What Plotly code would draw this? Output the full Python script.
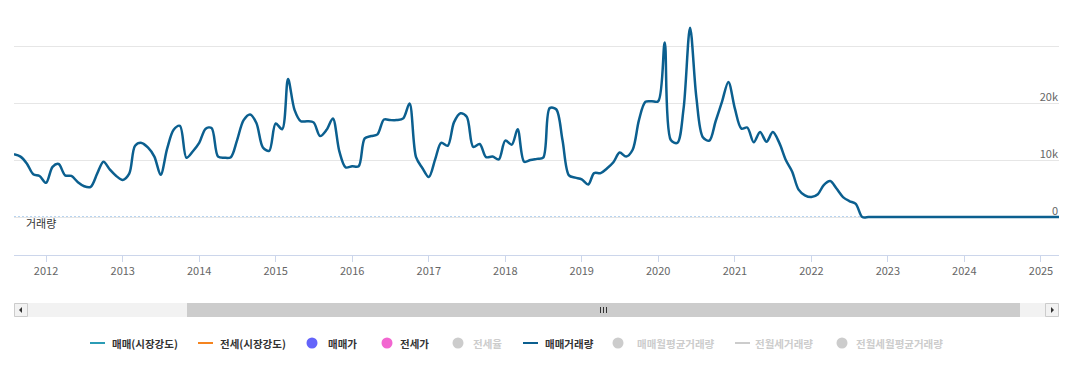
import plotly.graph_objects as go
import pandas as pd

# ---------------- data ----------------
start_month = "2011-08-01"
volume = [
    # 2011 Aug-Dec
    11000, 10600, 9400, 7500, 7200,
    # 2012
    6000, 8800, 9300, 7300, 7200, 6100, 5400, 5300, 7600, 9700, 8300, 7200,
    # 2013
    6500, 7600, 12500, 13000, 12200, 10600, 7400, 12000, 15300, 16000, 10400, 11500,
    # 2014
    13000, 15500, 15600, 10600, 10400, 10500, 13500, 17000, 18000, 16500, 12200, 11600,
    # 2015
    16400, 15400, 24200, 18800, 16800, 16800, 16600, 14200, 15300, 17300, 11500, 8700,
    # 2016
    8900, 8900, 13800, 14200, 14500, 17100, 17000, 17000, 17300, 19900, 10500, 8600,
    # 2017
    7000, 10200, 13000, 12500, 16600, 18200, 17600, 12300, 12800, 10500, 10600, 10100,
    # 2018
    13400, 12700, 15400, 9700, 10000, 10200, 10400, 19100, 18900, 13500, 7300, 6900,
    # 2019
    6600, 5700, 7700, 7700, 8500, 9600, 11300, 10600, 11800, 17000, 20200, 20300,
    # 2020
    20300, 30600, 13500, 13000, 19000, 33200, 21000, 14000, 13400, 16800, 20300, 23700,
    # 2021
    19000, 15500, 15700, 13100, 14900, 13200, 14900, 13000, 10000, 8000, 4800, 3800,
    # 2022
    3500, 4000, 5600, 6300, 5000, 3500, 2800, 2300, 0, 0, 0, 0,
    # 2023
    0, 0, 0, 0, 0, 0, 0, 0, 0, 0, 0, 0,
    # 2024
    0, 0, 0, 0, 0, 0, 0, 0, 0, 0, 0, 0,
    # 2025 Jan-Apr
    0, 0, 0, 0,
]
months = pd.date_range(start_month, periods=len(volume), freq="MS")

y_tickvals = [0, 10000, 20000, 30000]
y_ticktext = ["0", "10k", "20k", ""]
axis_title = "거래량"

legend_names = ["매매(시장강도)", "전세(시장강도)", "매매가", "전세가", "전세율",
                "매매거래량", "매매월평균거래량", "전월세거래량", "전월세월평균거래량"]
legend_kinds = ["line", "line", "dot", "dot", "dot", "line", "dot", "line", "dot"]
legend_colors = ["#2b9cb5", "#f5841f", "#6464fa", "#f266d0", "#cccccc",
                 "#0b5f8f", "#cccccc", "#cccccc", "#cccccc"]
legend_active = [True, True, True, True, False, True, False, False, False]

# ---------------- layout helpers (pixels -> paper) ----------------
W, H = 1076, 371
def px(x):
    return x / W
def py(y):
    return 1 - y / H

PLOT_L, PLOT_R, PLOT_T, PLOT_B = 14, 1059, 10, 255
LINE_COLOR = "#0b5f8f"
FONT = "Noto Sans CJK KR"

fig = go.Figure()
fig.add_trace(go.Scatter(
    x=months, y=volume, mode="lines",
    line=dict(color=LINE_COLOR, width=2.5, shape="spline", smoothing=0.9),
    hoverinfo="skip", showlegend=False,
))

shapes = []
# zero line (dotted), white underlay to hide grid
shapes.append(dict(type="line", xref="paper", yref="y", x0=px(PLOT_L), x1=px(PLOT_R),
                   y0=0, y1=0, line=dict(color="white", width=1), layer="between"))
shapes.append(dict(type="line", xref="paper", yref="y", x0=px(PLOT_L), x1=px(PLOT_R),
                   y0=0, y1=0, line=dict(color="#6fa8e0", width=1, dash="2px,2px"),
                   layer="between"))

# scrollbar
SB_T, SB_B = 303, 317
shapes.append(dict(type="rect", xref="paper", yref="paper", x0=px(PLOT_L), x1=px(PLOT_R),
                   y0=py(SB_B), y1=py(SB_T), fillcolor="#f2f2f2", line=dict(width=0)))
shapes.append(dict(type="rect", xref="paper", yref="paper", x0=px(187), x1=px(1020),
                   y0=py(SB_B), y1=py(SB_T), fillcolor="#cccccc", line=dict(width=0)))
for bx in (PLOT_L, PLOT_R - 14):
    shapes.append(dict(type="rect", xref="paper", yref="paper", x0=px(bx + 0.5), x1=px(bx + 13.5),
                       y0=py(SB_B - 0.5), y1=py(SB_T + 0.5), fillcolor="#f2f2f2",
                       line=dict(color="#cccccc", width=1)))
# arrows
cy = (SB_T + SB_B) / 2
lx = PLOT_L + 7
rx = PLOT_R - 7
shapes.append(dict(type="path", xref="paper", yref="paper",
                   path=f"M {px(lx-2)} {py(cy)} L {px(lx+1)} {py(cy-3)} L {px(lx+1)} {py(cy+3)} Z",
                   fillcolor="#333333", line=dict(width=0)))
shapes.append(dict(type="path", xref="paper", yref="paper",
                   path=f"M {px(rx+2)} {py(cy)} L {px(rx-1)} {py(cy-3)} L {px(rx-1)} {py(cy+3)} Z",
                   fillcolor="#333333", line=dict(width=0)))
# grip
for gx in (600.5, 603.5, 606.5):
    shapes.append(dict(type="line", xref="paper", yref="paper", x0=px(gx), x1=px(gx),
                       y0=py(cy - 3), y1=py(cy + 3), line=dict(color="#333333", width=1)))

# legend (custom)
LEG_Y = 343
sym_x = [90, 198, 312, 387, 458, 523, 618, 735, 842]
text_x = [110, 218, 326, 398, 471, 543, 635, 753, 854]
annotations = []
for name, kind, col, act, sx, tx in zip(legend_names, legend_kinds, legend_colors,
                                         legend_active, sym_x, text_x):
    if kind == "line":
        shapes.append(dict(type="line", xref="paper", yref="paper", x0=px(sx), x1=px(sx + 15),
                           y0=py(LEG_Y), y1=py(LEG_Y), line=dict(color=col, width=2)))
    else:
        shapes.append(dict(type="circle", xref="paper", yref="paper", x0=px(sx - 5.5),
                           x1=px(sx + 5.5), y0=py(LEG_Y + 5.5), y1=py(LEG_Y - 5.5),
                           fillcolor=col, line=dict(width=0)))
    annotations.append(dict(text=f"<b>{name}</b>", xref="paper", yref="paper", x=px(tx),
                            y=py(LEG_Y), xanchor="left", yanchor="middle", showarrow=False,
                            font=dict(family=FONT, size=10.5,
                                      color="#333333" if act else "#cccccc")))

annotations.append(dict(text=axis_title, xref="paper", yref="y", x=px(24), y=0, yshift=-6,
                        xanchor="left", yanchor="middle", showarrow=False,
                        font=dict(family=FONT, size=11, color="#333333")))

fig.update_layout(
    width=W, height=H,
    margin=dict(l=0, r=0, t=0, b=0),
    paper_bgcolor="white", plot_bgcolor="white",
    showlegend=False,
    shapes=shapes,
    annotations=annotations,
    font=dict(family=FONT, size=11, color="#666666"),
    xaxis=dict(
        domain=[px(PLOT_L), px(PLOT_R)],
        range=["2011-08-01", "2025-03-28"],
        showgrid=False, zeroline=False,
        showline=True, linecolor="#ccd6eb", linewidth=1,
        ticks="outside", ticklen=6, tickcolor="#ccd6eb",
        dtick="M12", tick0="2012-01-01", tickformat="%Y",
        ticklabeloverflow="allow",
        tickfont=dict(family=FONT, size=11, color="#666666"),
    ),
    yaxis=dict(
        domain=[py(PLOT_B), py(PLOT_T)],
        range=[-6667, 36316],
        side="right",
        tickvals=y_tickvals, ticktext=y_ticktext,
        ticklabelposition="inside",
        ticklabelshift=-6, ticklabelstandoff=-2,
        ticklabeloverflow="allow",
        showgrid=True, gridcolor="#e6e6e6", gridwidth=1,
        zeroline=False, showline=False, ticks="",
        tickfont=dict(family=FONT, size=11, color="#666666"),
    ),
)

fig.write_html("out.html", config={"displayModeBar": False},
               post_script="document.body.style.margin='0px';")
